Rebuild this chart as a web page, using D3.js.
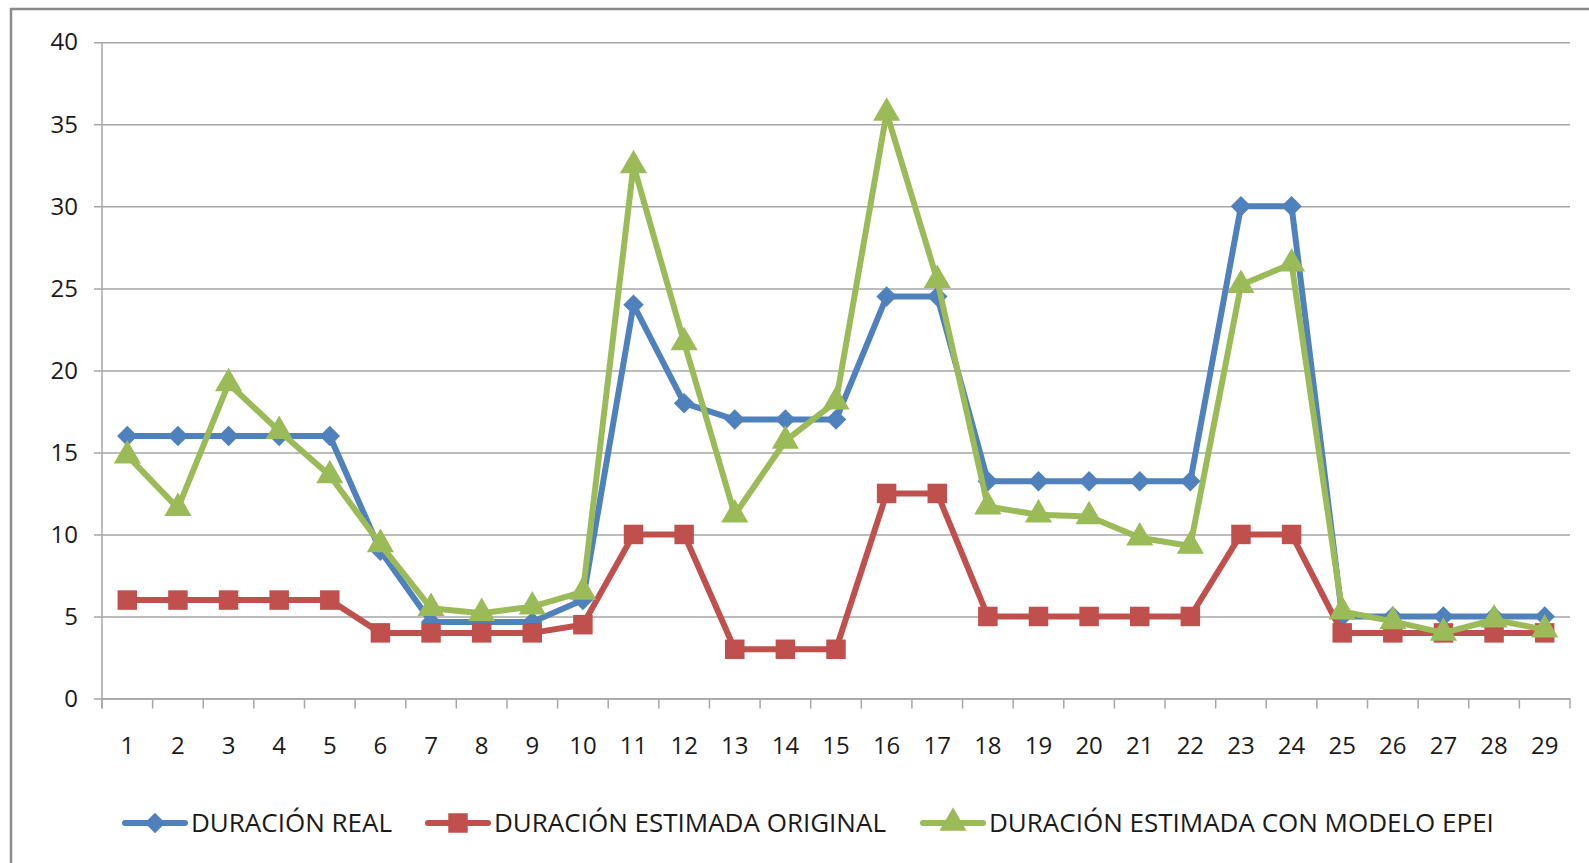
<!DOCTYPE html>
<html lang="es">
  <head>
    <meta charset="utf-8">
    <title>Duración real vs estimada</title>
    <script type="text/javascript" src="https://cdn.jsdelivr.net/npm/d3@7"></script>
    <style>
    body {
      margin: 0;
      background: #ffffff;
    }
    #chart text {
      font-family: "Open Sans", sans-serif;
      fill: #1a1a1a;
    }
    </style>
  </head>
  <body>
    <div id="chart"></div>

    <script type="text/javascript">

      // data
      var categories = d3.range(1, 30);
      var yTicks = [0, 5, 10, 15, 20, 25, 30, 35, 40];
      var seriesNames = ['DURACIÓN REAL', 'DURACIÓN ESTIMADA ORIGINAL', 'DURACIÓN ESTIMADA CON MODELO EPEI'];

      var real = [16, 16, 16, 16, 16, 9, 4.67, 4.67, 4.67, 6,
                  24, 18, 17, 17, 17, 24.5, 24.5, 13.25, 13.25, 13.25,
                  13.25, 13.25, 30, 30, 5, 5, 5, 5, 5];
      var original = [6, 6, 6, 6, 6, 4, 4, 4, 4, 4.5,
                      10, 10, 3, 3, 3, 12.5, 12.5, 5, 5, 5,
                      5, 5, 10, 10, 4, 4, 4, 4, 4];
      var epei = [14.8, 11.6, 19.2, 16.3, 13.6, 9.4, 5.5, 5.2, 5.6, 6.5,
                  32.5, 21.7, 11.2, 15.7, 18.1, 35.7, 25.5, 11.7, 11.2, 11.1,
                  9.8, 9.3, 25.2, 26.5, 5.3, 4.7, 4.0, 4.8, 4.2];

      var colors = ['#4f81bd', '#c0504d', '#9bbb59'];
      // diamond = square turned 45 degrees
      var symbols = [d3.symbolSquare, d3.symbolSquare, d3.symbolTriangle];
      var symSizes = [210, 380, 320];
      var symRotate = [45, 0, 0];

      var dims = { w: 1589, h: 863, left: 102, right: 1570, top: 42.3, bottom: 698.5 };

      var svg = d3.select('#chart')
        .append('svg')
          .attr('width', dims.w)
          .attr('height', dims.h);

      // outer frame (cut off at right and bottom)
      svg.append('rect')
        .attr('x', 11)
        .attr('y', 9)
        .attr('width', 1700)
        .attr('height', 1000)
        .attr('fill', 'none')
        .attr('stroke', '#8a8a8a')
        .attr('stroke-width', 2.5);

      var xScale = d3.scaleBand()
        .domain(categories)
        .range([dims.left, dims.right])
        .padding(0);

      var yScale = d3.scaleLinear()
        .domain([0, 40])
        .range([dims.bottom, dims.top]);

      // gridlines + y labels
      var yAxis = d3.axisLeft(yScale)
        .tickValues(yTicks)
        .tickSize(-(dims.right - dims.left))
        .tickPadding(24)
        .tickFormat(d3.format('d'));

      var gy = svg.append('g')
        .attr('transform', 'translate(' + dims.left + ',0)')
        .call(yAxis);
      gy.select('.domain').remove();
      gy.selectAll('.tick line')
        .attr('x1', -8)
        .attr('stroke', '#a6a6a6')
        .attr('stroke-width', 1.5);
      gy.selectAll('.tick text')
        .style('font-size', '24px');

      // vertical axis line
      svg.append('line')
        .attr('x1', dims.left).attr('x2', dims.left)
        .attr('y1', dims.top).attr('y2', dims.bottom + 10)
        .attr('stroke', '#a6a6a6')
        .attr('stroke-width', 1.5);

      // x axis: ticks sit between categories
      var gx = svg.append('g')
        .attr('transform', 'translate(0,' + dims.bottom + ')')
        .call(d3.axisBottom(xScale).tickSize(0).tickPadding(38));
      gx.select('.domain')
        .attr('stroke', '#a6a6a6')
        .attr('stroke-width', 1.5);
      gx.selectAll('.tick text')
        .style('font-size', '24px');

      gx.selectAll('.sep')
        .data(categories.concat([null]))
        .enter()
        .append('line')
          .attr('class', 'sep')
          .attr('x1', function(d, i) { return dims.left + i * xScale.bandwidth(); })
          .attr('x2', function(d, i) { return dims.left + i * xScale.bandwidth(); })
          .attr('y1', 0)
          .attr('y2', 10)
          .attr('stroke', '#a6a6a6')
          .attr('stroke-width', 1.5);

      var allSeries = [real, original, epei];

      var line = d3.line()
        .x(function(d, i) { return xScale(categories[i]) + xScale.bandwidth() / 2; })
        .y(function(d) { return yScale(d); });

      allSeries.forEach(function(vals, s) {
        var g = svg.append('g');
        g.append('path')
          .datum(vals)
          .attr('d', line)
          .attr('fill', 'none')
          .attr('stroke', colors[s])
          .attr('stroke-width', 6)
          .attr('stroke-linejoin', 'round');

        g.selectAll('.marker')
          .data(vals)
          .enter()
          .append('path')
            .attr('class', 'marker')
            .attr('transform', function(d, i) {
              return 'translate(' + (xScale(categories[i]) + xScale.bandwidth() / 2) + ',' + yScale(d) + ') rotate(' + symRotate[s] + ')';
            })
            .attr('d', d3.symbol().type(symbols[s]).size(symSizes[s]))
            .attr('fill', colors[s]);
      });

      // legend
      var legendX = [125, 428, 923];
      var legendY = 823;
      var legend = svg.append('g');

      seriesNames.forEach(function(name, s) {
        var x0 = legendX[s];
        legend.append('line')
          .attr('x1', x0).attr('x2', x0 + 60)
          .attr('y1', legendY).attr('y2', legendY)
          .attr('stroke', colors[s])
          .attr('stroke-width', 6)
          .attr('stroke-linecap', 'round');
        legend.append('path')
          .attr('transform', 'translate(' + (x0 + 30) + ',' + legendY + ') rotate(' + symRotate[s] + ')')
          .attr('d', d3.symbol().type(symbols[s]).size(symSizes[s]))
          .attr('fill', colors[s]);
        legend.append('text')
          .attr('x', x0 + 66)
          .attr('y', legendY)
          .attr('dy', '0.35em')
          .style('font-size', '26px')
          .text(name);
      });

    </script>
  </body>
</html>
